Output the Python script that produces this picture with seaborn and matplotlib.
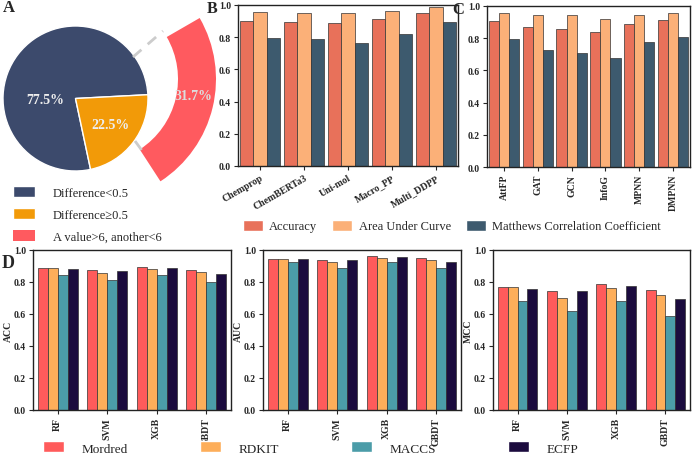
import pandas as pd
import matplotlib
matplotlib.use('Agg')
import matplotlib.pyplot as plt
import seaborn as sns
from matplotlib.patches import Wedge, Patch

# ---- panel A data
pie_labels = ['Difference<0.5', 'Difference\u22650.5', 'A value>6, another<6']
pie_values = [77.5, 22.5]
arc_value = 31.7

# ---- panel B data
b_models = ['Chemprop', 'ChemBERTa3', 'Uni-mol', 'Macro_PP', 'Multi_DDPP']
b_acc = [0.903, 0.897, 0.886, 0.910, 0.948]
b_auc = [0.959, 0.950, 0.948, 0.965, 0.990]
b_mcc = [0.797, 0.789, 0.762, 0.817, 0.893]

# ---- panel C data
c_models = ['AttFP', 'GAT', 'GCN', 'InfoG', 'MPNN', 'DMPNN']
c_acc = [0.906, 0.871, 0.858, 0.840, 0.890, 0.910]
c_auc = [0.958, 0.942, 0.944, 0.919, 0.944, 0.956]
c_mcc = [0.796, 0.725, 0.706, 0.677, 0.775, 0.806]

metrics = ['Accuracy', 'Area Under Curve', 'Matthews Correlation Coefficient']

# ---- panel D data (rows: Mordred, RDKIT, MACCS, ECFP; cols: RF, SVM, XGB, GBDT)
d_models = ['RF', 'SVM', 'XGB', 'GBDT']
features = ['Mordred', 'RDKIT', 'MACCS', 'ECFP']
d_acc = [[0.885, 0.873, 0.894, 0.877],
         [0.885, 0.854, 0.883, 0.862],
         [0.844, 0.813, 0.842, 0.798],
         [0.881, 0.871, 0.885, 0.850]]
d_auc = [[0.946, 0.940, 0.960, 0.950],
         [0.946, 0.925, 0.950, 0.938],
         [0.925, 0.888, 0.927, 0.888],
         [0.946, 0.940, 0.956, 0.925]]
d_mcc = [[0.769, 0.746, 0.785, 0.752],
         [0.769, 0.698, 0.763, 0.721],
         [0.681, 0.619, 0.679, 0.585],
         [0.758, 0.742, 0.773, 0.694]]
d_ylabels = ['ACC', 'AUC', 'MCC']

pie_colors = ['#3c4a6c', '#f29a08']
arc_color = '#ff5a5f'
metric_colors = ['#e8715a', '#fbb078', '#3d5a6e']
feature_colors = ['#ff5b5b', '#fdae5a', '#4b9ca8', '#1b0b3e']

sns.set_style('ticks')
plt.rcParams['font.family'] = ['Liberation Serif', 'DejaVu Serif']
plt.rcParams['axes.linewidth'] = 1.0

W, H = 692, 456
fig = plt.figure(figsize=(W / 100, H / 100), dpi=100)


def px_axes(x0, y0, x1, y1):
    # axes from pixel box (top-left origin)
    return fig.add_axes([x0 / W, 1 - y1 / H, (x1 - x0) / W, (y1 - y0) / H])


def style_bar_axes(ax):
    ax.set_ylim(0, 1.0)
    ax.set_yticks([0, 0.2, 0.4, 0.6, 0.8, 1.0])
    ax.set_yticklabels(['0.0', '0.2', '0.4', '0.6', '0.8', '1.0'])
    ax.tick_params(axis='both', length=3, width=0.8, labelsize=7, pad=2)
    for lab in ax.get_xticklabels() + ax.get_yticklabels():
        lab.set_fontweight('bold')
    for sp in ax.spines.values():
        sp.set_visible(True)
        sp.set_color('#222222')
    ax.set_xlabel('')


# ---------------- A
axA = px_axes(0, 0, 240, 250)
wedges, _, autotexts = axA.pie(pie_values, colors=pie_colors, startangle=3,
                               center=(75.5, 150.5), radius=72.5,
                               autopct='%1.1f%%', pctdistance=0.6,
                               wedgeprops=dict(edgecolor='white', linewidth=1),
                               textprops=dict(color='#eeeeee', fontsize=10,
                                              fontweight='bold'))
autotexts[0].set_position((45, 150))
axA.set_xlim(0, 240)
axA.set_ylim(0, 250)
axA.axis('off')
arc = Wedge((94, 170), 122, -57, 30, width=38, facecolor=arc_color,
            edgecolor='none')
axA.add_patch(arc)
axA.text(193, 153, f'{arc_value}%', color='#dddddd', fontsize=10,
         fontweight='bold', ha='center', va='center')
axA.plot([133, 163], [192, 218], color='#cccccc', lw=2, ls=(0, (4, 3)))
axA.plot([135, 146], [108, 93], color='#cccccc', lw=2, ls=(0, (4, 3)))
axA.legend(handles=[wedges[0], wedges[1], arc], labels=pie_labels,
           loc='upper left', bbox_to_anchor=(13 / 240, (250 - 187) / 250),
           frameon=False, fontsize=9, borderpad=0, borderaxespad=0,
           handlelength=1.76, handleheight=0.96, handletextpad=1.4,
           labelspacing=0.75)

# ---------------- B
dfB = pd.DataFrame({'Model': b_models * 3,
                    'Metric': sum([[m] * len(b_models) for m in metrics], []),
                    'Score': b_acc + b_auc + b_mcc})
axB = px_axes(238, 6, 458, 167)
sns.barplot(data=dfB, x='Model', y='Score', hue='Metric', palette=metric_colors,
            ax=axB, width=0.9, saturation=1, edgecolor='#333333', linewidth=0.5,
            legend=False)
style_bar_axes(axB)
axB.set_ylabel('')
axB.set_xlim(-0.5, len(b_models) - 0.5)
plt.setp(axB.get_xticklabels(), rotation=30, ha='right', rotation_mode='anchor')

# ---------------- C
dfC = pd.DataFrame({'Model': c_models * 3,
                    'Metric': sum([[m] * len(c_models) for m in metrics], []),
                    'Score': c_acc + c_auc + c_mcc})
axC = px_axes(487, 7, 690, 168)
sns.barplot(data=dfC, x='Model', y='Score', hue='Metric', palette=metric_colors,
            ax=axC, width=0.9, saturation=1, edgecolor='#333333', linewidth=0.5,
            legend=False)
style_bar_axes(axC)
axC.set_ylabel('')
axC.set_xlim(-0.5, len(c_models) - 0.5)
plt.setp(axC.get_xticklabels(), rotation=90)

fig.legend(handles=[Patch(facecolor=c) for c in metric_colors], labels=metrics,
           loc='center left', bbox_to_anchor=(243 / W, 1 - 227 / H), ncol=3,
           frameon=False, fontsize=9, borderpad=0, borderaxespad=0,
           handlelength=1.6, handleheight=0.96, handletextpad=0.5,
           columnspacing=1.2)

# ---------------- D
d_boxes = [(33, 251, 231, 411), (263, 251, 461, 411), (493, 251, 690, 411)]
for box, vals, ylab in zip(d_boxes, [d_acc, d_auc, d_mcc], d_ylabels):
    dfD = pd.DataFrame({'Model': d_models * len(features),
                        'Feature': sum([[f] * len(d_models) for f in features], []),
                        'Score': sum(vals, [])})
    ax = px_axes(*box)
    sns.barplot(data=dfD, x='Model', y='Score', hue='Feature',
                palette=feature_colors, ax=ax, width=0.8, saturation=1,
                edgecolor='#333333', linewidth=0.5, legend=False)
    style_bar_axes(ax)
    ax.set_xlim(-0.5, len(d_models) - 0.5)
    ax.set_ylabel(ylab, fontsize=7, fontweight='bold', labelpad=1)
    plt.setp(ax.get_xticklabels(), rotation=90)

fig.legend(handles=[Patch(facecolor=c) for c in feature_colors], labels=features,
           loc='center', bbox_to_anchor=(43 / W, 1 - 449 / H, 535 / W, 0),
           mode='expand', ncol=4, frameon=False, fontsize=9.5, borderpad=0,
           borderaxespad=0, handlelength=1.6, handleheight=0.9,
           handletextpad=1.3)

# panel letters
for letter, (x, y, fs) in zip('ABCD', [(3, 12, 12), (207, 13, 11.5),
                                       (452, 14, 12), (2, 268, 13)]):
    fig.text(x / W, 1 - y / H, letter, fontsize=fs, fontweight='bold',
             va='baseline')

fig.savefig('out.png', dpi=100, facecolor='white')
